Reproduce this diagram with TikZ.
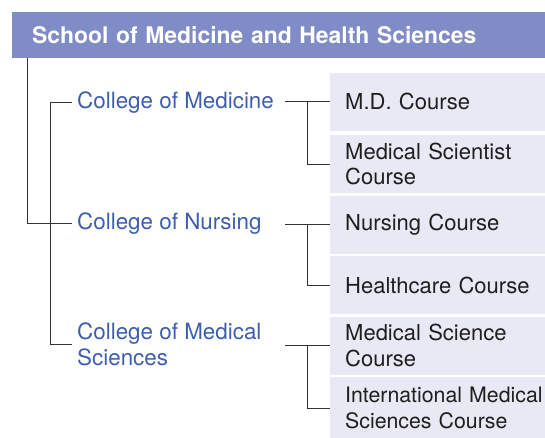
\documentclass[tikz,border=0pt]{standalone}
\usepackage{fontspec}
\setmainfont{TeX Gyre Heros}
\definecolor{hdrcol}{HTML}{7F8CC6}
\definecolor{boxcol}{HTML}{E9E9F5}
\definecolor{colblue}{HTML}{3D5DAE}
\definecolor{linecol}{HTML}{333333}
\definecolor{txtcol}{HTML}{1E1E1E}
\begin{document}
\begin{tikzpicture}[x=1pt,y=-1pt,
  hdr/.style={fill=hdrcol,text=white,font=\fontsize{22.9}{28}\selectfont\bfseries,
    minimum height=45.3pt,inner xsep=20pt,inner ysep=0pt,text width=530pt,align=left,anchor=north west},
  crs/.style={fill=boxcol,text=txtcol,font=\fontsize{22}{25.5}\selectfont,
    minimum height=57.8pt,inner xsep=15pt,inner ysep=0pt,text width=240pt,align=left,anchor=north west},
  col/.style={text=colblue,font=\fontsize{22.4}{25.5}\selectfont,inner xsep=5pt,inner ysep=0pt,align=left,anchor=west},
  conn/.style={draw=linecol,line width=0.9pt}]
\useasboundingbox (0,0) rectangle (545,437);
\node[hdr] (hdr) at (12,12) {School of Medicine and Health Sciences};
\node[crs] (b1) at (330,72.7) {M.D. Course};
\node[crs] (b2) at (330,135) {Medical Scientist\\Course};
\node[crs] (b3) at (330,195.5) {Nursing Course};
\node[crs] (b4) at (330,256) {Healthcare Course};
\node[crs] (b5) at (330,316.5) {Medical Science\\Course};
\node[crs,minimum height=62pt,font=\fontsize{21.3}{25.5}\selectfont] (b6) at (330,376.8) {International Medical\\Sciences Course};
\node[col] (cm) at (72,102.5) {College of Medicine};
\node[col] (cn) at (72,223.7) {College of Nursing};
\node[col] (cms) at (72,344.3) {College of Medical\\Sciences};
\draw[conn] ([xshift=15.3pt]hdr.south west) |- (cn.west);
\draw[conn] (cm.west) -- ++(-22,0) |- (cms.west);
\draw[conn] (b1.west) -- ++(-45,0);
\draw[conn] ([xshift=-23pt]b1.west) |- (b2.west);
\draw[conn] (b3.west) -- ++(-45,0);
\draw[conn] ([xshift=-23pt]b3.west) |- (b4.west);
\draw[conn] (b5.west) -- ++(-45,0);
\draw[conn] ([xshift=-23pt]b5.west) |- (b6.west);
\end{tikzpicture}
\end{document}
